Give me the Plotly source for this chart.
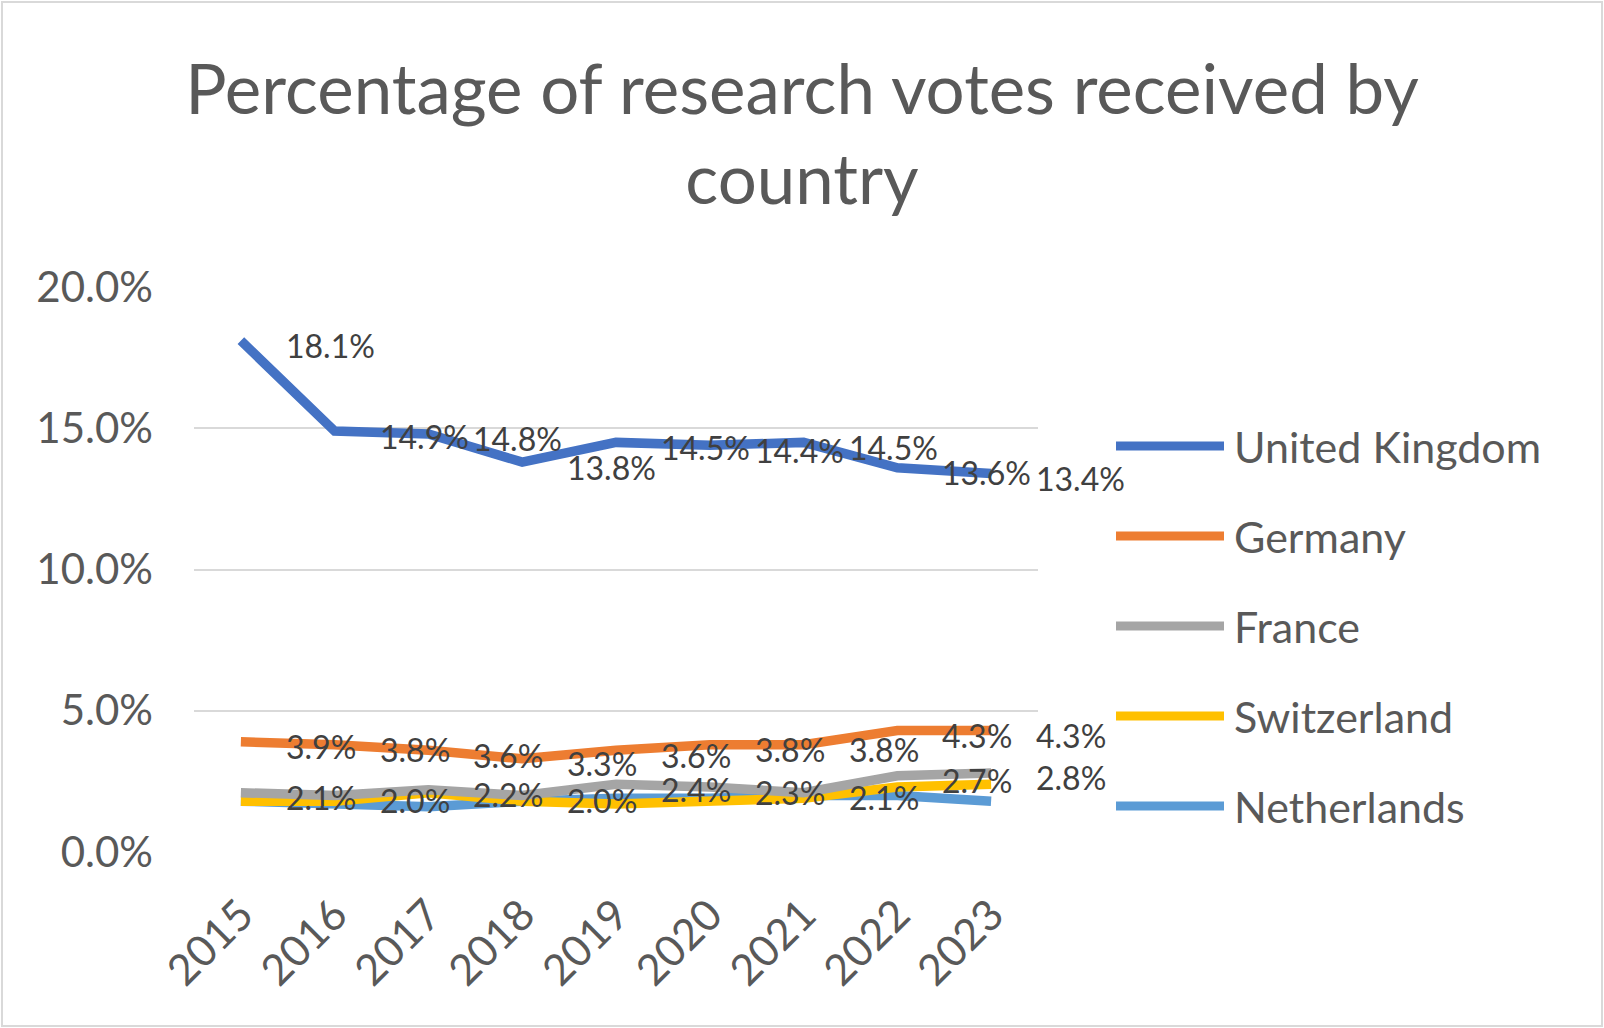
import plotly.graph_objects as go

years = ["2015", "2016", "2017", "2018", "2019", "2020", "2021", "2022", "2023"]
series_names = ["United Kingdom", "Germany", "France", "Switzerland", "Netherlands"]
uk = [18.1, 14.9, 14.8, 13.8, 14.5, 14.4, 14.5, 13.6, 13.4]
germany = [3.9, 3.8, 3.6, 3.3, 3.6, 3.8, 3.8, 4.3, 4.3]
france = [2.1, 2.0, 2.2, 2.0, 2.4, 2.3, 2.1, 2.7, 2.8]
switzerland = [1.8, 1.8, 2.1, 1.8, 1.7, 1.8, 1.9, 2.3, 2.4]
netherlands = [1.8, 1.7, 1.6, 1.8, 1.9, 1.9, 2.0, 2.0, 1.8]
y_ticks = [0, 5, 10, 15, 20]
y_tick_labels = ["0.0%", "5.0%", "10.0%", "15.0%", "20.0%"]

values = [uk, germany, france, switzerland, netherlands]
colors = ["#4472C4", "#ED7D31", "#A5A5A5", "#FFC000", "#5B9BD5"]
labelled = [True, True, True, False, False]

W, H = 1604, 1028
L, R, T, B = 194, 1604 - 1038, 287, 1028 - 852
pw, ph = W - L - R, H - T - B
FONT = "Lato"
GREY = "#595959"

fig = go.Figure()
for name, vals, col in reversed(list(zip(series_names, values, colors))):
    fig.add_trace(go.Scatter(x=years, y=vals, mode="lines", name=name,
                             line=dict(color=col, width=9.5), showlegend=False))

annotations = []
for vals, lab in zip(values, labelled):
    if not lab:
        continue
    for i, v in enumerate(vals):
        annotations.append(dict(x=i, y=v, xref="x", yref="y", text=f"{v:.1f}%",
                                showarrow=False, xanchor="left", yanchor="middle",
                                xshift=43, yshift=-5,
                                font=dict(family=FONT, size=32, color="#404040")))

legend_y_px = [446, 536, 626, 716, 806]
shapes = []
for name, col, py in zip(series_names, colors, legend_y_px):
    yp = (852 - py) / ph
    shapes.append(dict(type="line", xref="paper", yref="paper",
                       x0=(1116 - L) / pw, x1=(1224 - L) / pw, y0=yp, y1=yp,
                       line=dict(color=col, width=9)))
    annotations.append(dict(x=(1232 - L) / pw, y=yp, xref="paper", yref="paper",
                            text=name, showarrow=False, xanchor="left", yanchor="middle",
                            font=dict(family=FONT, size=43, color=GREY)))

shapes.append(dict(type="rect", xref="paper", yref="paper",
                   x0=(2 - L) / pw, x1=(W - 2 - L) / pw,
                   y0=-(H - 2 - T - ph) / ph, y1=(T - 2 + ph) / ph,
                   line=dict(color="#D9D9D9", width=2), fillcolor="rgba(0,0,0,0)"))

fig.update_layout(
    width=W, height=H,
    margin=dict(l=L, r=R, t=T, b=B),
    paper_bgcolor="white", plot_bgcolor="white",
    title=dict(text="Percentage of research votes received by<br>country",
               x=0.5, xref="container", xanchor="center",
               y=1 - 114 / H, yref="container", yanchor="top",
               font=dict(family=FONT, size=69, color=GREY)),
    xaxis=dict(type="category", range=[-0.5, 8.5], showgrid=False, zeroline=False,
               showline=False, tickangle=-45, ticks="", ticklabelstandoff=28,
               tickfont=dict(family=FONT, size=43, color=GREY)),
    yaxis=dict(range=[0, 20], tickvals=y_ticks, ticktext=y_tick_labels,
               showgrid=True, gridcolor="#D9D9D9", gridwidth=2,
               zeroline=False, showline=False, ticks="", ticklabelstandoff=40,
               tickfont=dict(family=FONT, size=42, color=GREY)),
    annotations=annotations, shapes=shapes, showlegend=False,
)

fig.write_html("out.html", config={"displayModeBar": False},
               post_script="document.body.style.margin='0';document.body.style.overflow='hidden';")
